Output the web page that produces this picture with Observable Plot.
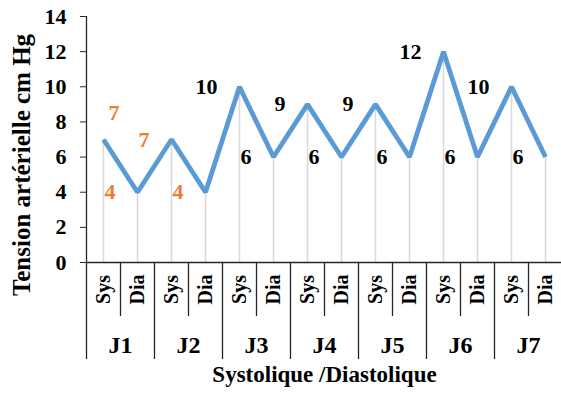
<!DOCTYPE html>
<html><head><meta charset="utf-8">
<script src="https://cdn.jsdelivr.net/npm/d3@7"></script>
<script src="https://cdn.jsdelivr.net/npm/@observablehq/plot@0.6"></script>
<style>html,body{margin:0;padding:0;background:#fff} svg{display:block}</style>
</head><body><div id="chart"></div>
<script>
const days = ["J1","J2","J3","J4","J5","J6","J7"];
const phases = ["Sys","Dia"];
const systolic = [7,7,10,9,9,12,10];
const diastolic = [4,4,6,6,6,6,6];
const yTicks = [0,2,4,6,8,10,12,14];
const yTitle = "Tension artérielle cm Hg";
const xTitle = "Systolique /Diastolique";

const W = 561, H = 394, mL = 86, mR = -1, mT = 16, mB = 132;
const serif = "'Liberation Serif','Times New Roman',Times,serif";
const axisColor = "#262626";

const points = days.flatMap((d, i) => phases.map(ph => ({
  key: d + "-" + ph, day: d, phase: ph, v: ph === "Sys" ? systolic[i] : diastolic[i], i
})));
const keys = points.map(p => p.key);
const step = (W - mL - mR) / keys.length;
const unit = (H - mB - mT) / 14;

// data labels: systolic value next to the previous point, diastolic value next to the systolic point
const labels = [];
days.forEach((d, i) => {
  const s = 2 * i;
  const first = i === 0;
  labels.push({key: first ? keys[s] : keys[s - 1], y: first ? systolic[i] + 1.5 : systolic[i], text: String(systolic[i]), first, i});
  labels.push({key: keys[s], y: diastolic[i], text: String(diastolic[i]), first: false, i});
});

const phaseSeps = points.filter(p => p.phase === "Dia").map(p => ({key: p.key, depth: 54}));
const daySeps = points.filter(p => p.phase === "Sys").map(p => ({key: p.key, depth: 97}));
const dayRows = points.filter(p => p.phase === "Sys");

const txt = {fontFamily: serif, fontWeight: "bold"};
const orange = "#ED7D31";

const plot = Plot.plot({
  width: W, height: H,
  marginLeft: mL, marginRight: mR, marginTop: mT, marginBottom: mB,
  style: {fontFamily: serif, background: "white", color: "black", overflow: "visible"},
  x: {type: "point", domain: keys, padding: 0.5, round: false, axis: null},
  y: {domain: [0, 14], axis: null},
  marks: [
    Plot.ruleX(points, {x: "key", y1: 0, y2: "v", stroke: "#d9d9d9", strokeWidth: 1.5}),
    Plot.ruleX([keys[0]], {x: d => d, y1: 0, y2: 14, dx: -step / 2, stroke: axisColor, strokeWidth: 1.3}),
    Plot.ruleY([0], {stroke: axisColor, strokeWidth: 1.3}),
    Plot.axisY({ticks: yTicks, tickSize: 6, tickPadding: 14, fontSize: 22, fontWeight: "bold", label: null, stroke: axisColor}),
    Plot.ruleX(phaseSeps, {x: "key", y1: 0, y2: d => -d.depth / unit, dx: -step / 2, stroke: axisColor, strokeWidth: 1.3}),
    Plot.ruleX(daySeps, {x: "key", y1: 0, y2: d => -d.depth / unit, dx: -step / 2, stroke: axisColor, strokeWidth: 1.3}),
    Plot.line(points, {x: "key", y: "v", stroke: "#5B9BD5", strokeWidth: 4.8, strokeLinejoin: "miter", strokeLinecap: "butt"}),
    Plot.text(labels.filter(d => d.i < 2 && d.first), {x: "key", y: "y", text: "text", dx: 16, textAnchor: "end", fill: orange, fontSize: 22, ...txt}),
    Plot.text(labels.filter(d => d.i < 2 && !d.first), {x: "key", y: "y", text: "text", dx: 12, textAnchor: "end", fill: orange, fontSize: 22, ...txt}),
    Plot.text(labels.filter(d => d.i >= 2), {x: "key", y: "y", text: "text", textAnchor: "end", dx: 12, fill: "black", fontSize: 22, ...txt}),
    Plot.text(points, {x: "key", y: 0, text: "phase", rotate: -90, dy: 27, fontSize: 20, ...txt, ariaLabel: "phase labels"}),
    Plot.text(dayRows, {x: "key", y: 0, text: "day", dx: step / 2, dy: 83, fontSize: 24, ...txt, ariaLabel: "day labels"}),
    Plot.text([xTitle], {text: d => d, frameAnchor: "bottom", textAnchor: "middle", dy: 119, fontSize: 23, ...txt, ariaLabel: "x title"}),
    Plot.text([yTitle], {text: d => d, frameAnchor: "left", textAnchor: "middle", rotate: -90, dx: -64.5, dy: 25.5, fontSize: 25, ...txt, ariaLabel: "y title"})
  ]
});

document.getElementById("chart").appendChild(plot);
const svg = d3.select(plot);
svg.selectAll('g[aria-label="phase labels"] text')
  .attr("textLength", function() { return this.textContent === "Sys" ? 43 : 40; })
  .attr("lengthAdjust", "spacingAndGlyphs");
svg.selectAll('g[aria-label="day labels"] text')
  .attr("textLength", 29).attr("lengthAdjust", "spacingAndGlyphs");
svg.selectAll('g[aria-label="x title"] text')
  .attr("textLength", 232).attr("lengthAdjust", "spacingAndGlyphs");
</script>
</body></html>
